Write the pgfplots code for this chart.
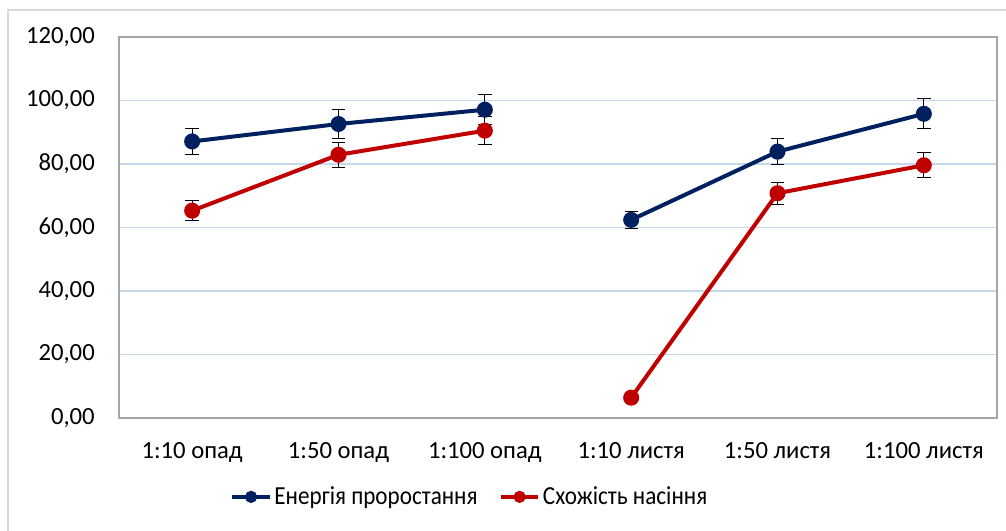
\documentclass[border=0pt]{standalone}
\usepackage{pgfplots}
\pgfplotsset{compat=1.18}
\usepackage{fontspec}
\setmainfont{Carlito}
\newfontfamily\legfont[FakeStretch=0.89]{Carlito}
\definecolor{navyS}{HTML}{002060}
\definecolor{redS}{HTML}{C00000}
\definecolor{gridB}{HTML}{C6D9EC}
\definecolor{frameG}{HTML}{A6A6A6}
\definecolor{outerG}{HTML}{D9D9D9}
\begin{document}
\begin{tikzpicture}
\path[use as bounding box] (-89.25pt,-84.75pt) rectangle (665.25pt,313.5pt);
\draw[outerG, line width=1.5pt] (-83.25pt,-90pt) -- (-83.25pt,306pt) -- (670pt,306pt);
\begin{axis}[
  at={(0pt,0pt)}, anchor=south west,
  scale only axis, width=658.5pt, height=285.75pt,
  xmin=-0.5, xmax=5.5, ymin=0, ymax=120,
  xtick={0,1,2,3,4,5},
  xticklabels={1:10 опад,1:50 опад,1:100 опад,1:10 листя,1:50 листя,1:100 листя},
  ytick={0,20,40,60,80,100,120},
  ymajorgrids, grid style={gridB, line width=1.2pt},
  axis line style={frameG, line width=1.2pt},
  major tick length=0pt,
  /pgf/number format/assume math mode=true,
  yticklabel={\pgfmathprintnumber[fixed,fixed zerofill,precision=2,use comma]{\tick}},
  tick label style={font=\fontsize{18.5}{22}\selectfont, text=black},
  yticklabel style={inner sep=0pt, anchor=east, xshift=-18pt},
  xticklabel style={inner sep=0pt, anchor=north, yshift=-18.5pt},
  legend columns=2,
  legend style={at={(axis description cs:0.4,-0.207)}, anchor=center, draw=none,
    font=\legfont\fontsize{19.5}{23}\selectfont, column sep=0pt, inner sep=0pt,
    /tikz/every even column/.append style={column sep=14pt}},
  legend cell align=left,
  legend image code/.code={\draw[#1, mark=none] (0pt,0pt) -- (28pt,0pt);
    \path[#1, mark size=3pt] plot coordinates {(14pt,0pt)};},
  every axis plot/.append style={line width=3pt, mark=*, mark size=4.5pt, mark options={solid}},
  errstyle/.style={error bars/.cd, y dir=both, y explicit,
  error bar style={black, line width=0.8pt}, error mark options={black, line width=0.8pt, mark size=5pt, rotate=90}, /pgfplots/.cd},
]
\addplot[navyS, errstyle]
  coordinates {
  (0,87.1) +- (0,4.2)
  (1,92.6) +- (0,4.7)
  (2,97.1) +- (0,4.7)
  };
\addlegendentry{Енергія проростання}
\addplot[redS, errstyle]
  coordinates {
  (0,65.3) +- (0,3.2)
  (1,82.9) +- (0,3.9)
  (2,90.5) +- (0,4.5)
  };
\addlegendentry{Схожість насіння}
\addplot[forget plot, navyS, errstyle]
  coordinates {
  (3,62.4) +- (0,2.7)
  (4,83.9) +- (0,4.1)
  (5,95.8) +- (0,4.7)
  };
\addplot[forget plot, redS, errstyle]
  coordinates {
  (3,6.4) +- (0,0)
  (4,70.8) +- (0,3.5)
  (5,79.6) +- (0,3.9)
  };
\end{axis}
\end{tikzpicture}
\end{document}
